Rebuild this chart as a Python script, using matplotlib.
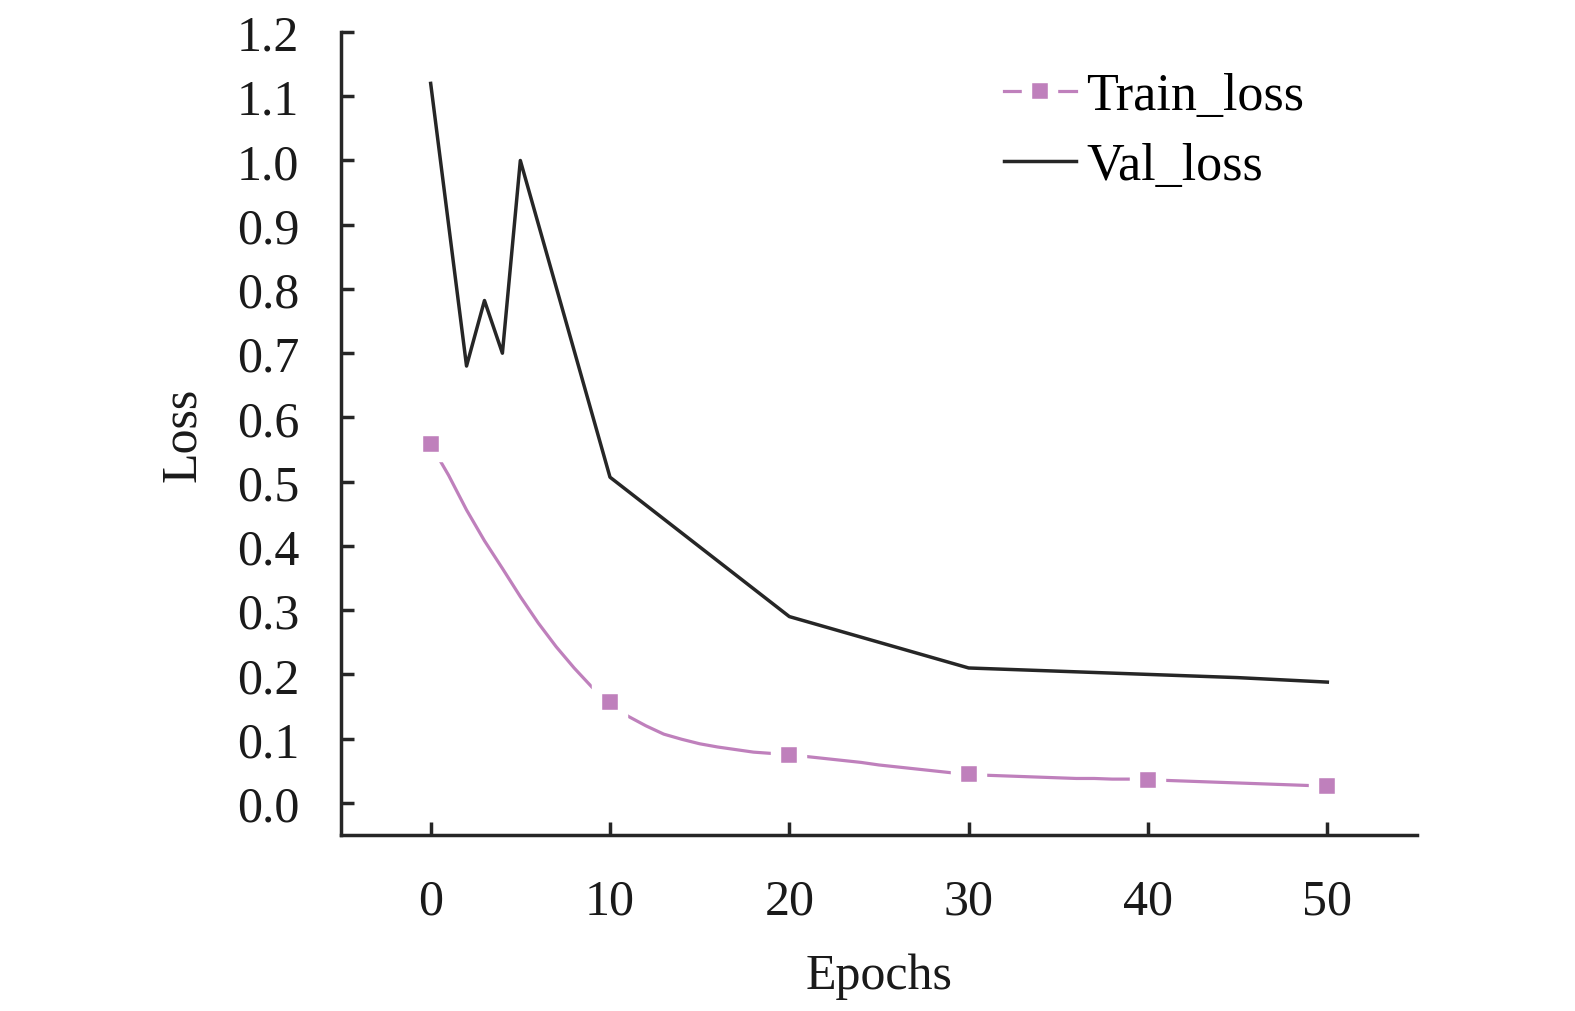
import matplotlib
matplotlib.use('Agg')
import matplotlib.pyplot as plt
from matplotlib.ticker import FormatStrFormatter

# values
train_epochs = list(range(0, 51))
train_loss = [0.558, 0.510, 0.456, 0.408, 0.365, 0.321, 0.280, 0.243, 0.210, 0.180,
              0.157, 0.135, 0.120, 0.107, 0.099, 0.092, 0.087, 0.083, 0.079, 0.077,
              0.075, 0.072, 0.069, 0.066, 0.063, 0.059, 0.056, 0.053, 0.050, 0.047,
              0.045, 0.043, 0.042, 0.041, 0.040, 0.039, 0.038, 0.038, 0.037, 0.037,
              0.036, 0.035, 0.034, 0.033, 0.032, 0.031, 0.030, 0.029, 0.028, 0.027,
              0.026]
val_epochs = [0, 2, 3, 4, 5, 10, 20, 30, 35, 40, 45, 50]
val_loss = [1.12, 0.68, 0.782, 0.70, 1.0, 0.507, 0.29, 0.21, 0.205, 0.20, 0.195, 0.188]

x_ticks = [0, 10, 20, 30, 40, 50]
y_ticks = [0.0, 0.1, 0.2, 0.3, 0.4, 0.5, 0.6, 0.7, 0.8, 0.9, 1.0, 1.1, 1.2]

pink = '#bf80bc'
dark = '#262626'
fs = 36


def plot_loss():
	plt.rcParams['font.family'] = ['Liberation Serif', 'DejaVu Serif']
	fig = plt.figure(figsize=(15.75, 10.12), dpi=100)
	ax = fig.add_axes([341 / 1575, 176 / 1012, (1417 - 341) / 1575, (979 - 176) / 1012])

	ax.plot(train_epochs, train_loss, color=pink, lw=2.3, marker='s', markevery=10,
	        markersize=19, markerfacecolor=pink, markeredgecolor='white', markeredgewidth=7.5,
	        label='Train_loss', zorder=3)
	ax.plot(val_epochs, val_loss, color=dark, lw=2.5, label='Val_loss', zorder=2)

	ax.set_xlim(-5, 55)
	ax.set_ylim(-0.05, 1.2)
	ax.set_xticks(x_ticks)
	ax.set_yticks(y_ticks)
	ax.yaxis.set_major_formatter(FormatStrFormatter('%.1f'))

	for side in ['top', 'right']:
		ax.spines[side].set_visible(False)
	for side in ['left', 'bottom']:
		ax.spines[side].set_linewidth(2.5)
		ax.spines[side].set_color(dark)
	ax.tick_params(direction='in', length=9.5, width=2.5, color=dark, labelsize=fs,
	               labelcolor='#1a1a1a')
	ax.tick_params(axis='y', pad=30)
	ax.tick_params(axis='x', pad=31)

	ax.set_xlabel('Epochs', fontsize=fs, labelpad=20, color='#1a1a1a')
	ax.set_ylabel('Loss', fontsize=fs, labelpad=22, color='#1a1a1a')

	ax.legend(loc='upper left', bbox_to_anchor=(1004 / 1575, 1 - 73 / 1012),
	          bbox_transform=fig.transFigure, frameon=False, fontsize=37.5,
	          borderpad=0, borderaxespad=0, handlelength=1.38, handletextpad=0.2,
	          labelspacing=0.42)

	fig.savefig('out.png', dpi=100)


if __name__ == '__main__':
	plot_loss()
